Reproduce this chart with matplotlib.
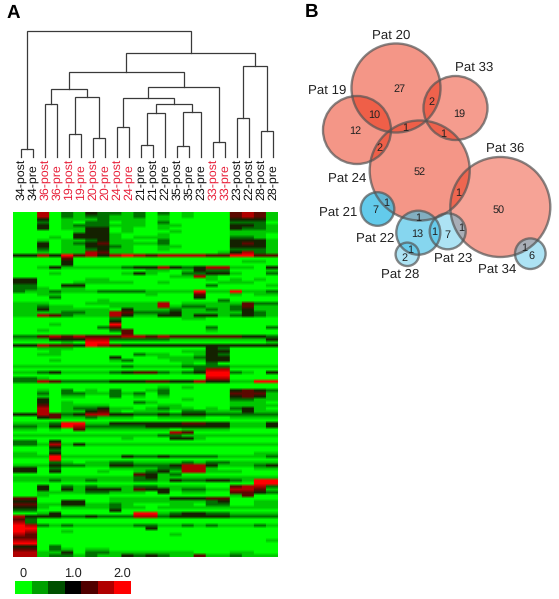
import matplotlib
matplotlib.use("Agg")
import matplotlib.pyplot as plt
import numpy as np
from matplotlib.colors import ListedColormap, LinearSegmentedColormap
from matplotlib.patches import Circle

plt.rcParams['font.family'] = ['Liberation Sans', 'DejaVu Sans']
plt.rcParams['text.hinting'] = 'no_hinting'

samples = ["34-post","34-pre","36-post","36-pre","19-post","19-pre","20-post","20-pre",
           "24-post","24-pre","21-pre","21-post","22-pre","35-post","35-pre","23-pre",
           "33-post","33-pre","23-post","22-post","28-post","28-pre"]
red_patients = ["36","19","20","24","33"]

# (child a, child b, height); ints are leaves, "m<k>" refers to the k-th merge
merges = [(0,1,23),(2,3,159),(4,5,68),(6,7,56),("m2","m3",179),("m1","m4",204),(8,9,90),
          (10,11,35),("m7",12,133),(13,14,33),("m9",15,136),("m8","m10",159),("m6","m11",176),
          (16,17,45),("m12","m13",211),("m5","m14",255),(18,19,116),(20,21,78),("m16","m17",272),
          ("m15","m18",313),("m0","m19",378)]

heat_rows = [
"0050213221202010004541","0050212211201010004541","0030111211101000003331","0020102201102000002220",
"0030122211101100003321","0030113301001000003221","0000013301000100001111","0000033310001000001110",
"0001033310111000002210","0010112311002000003331","0030123411112000003431","0030113321001100003331",
"0020112311001000002221","0010115411000000013521","3353645356545555446644","0000400000000000000000",
"0000300000000000000110","0000300000000000000000","0013111112335323551103","0000000000011013220001",
"0001000001310022331002","0000000000000115100000","3300001100000000101010","3300011111001000011100",
"2200330000000000200001","2210110000000000000000","2112111222211116116112","0011000000010004001011",
"0002000000000003000000","0000000100000000020000","1110001111115011111422","1121100011115122112411",
"1131111103111211212311","1111221154222311111321","1154211153113313312321","0000000020000011000000",
"0000000030000000000000","0001000060000000000000","0000000240000000200002","0010000024000000100000",
"0000000004000000000000","2245454445545444444332","1113335522222111111113","0000106600000000000001",
"3354436543333333333333","0011100000000000320000","0001000000000011330000","0011000000211001320000",
"0000000030001112330000","0001000012000111330000","0000000000000010200000","1111111112111122221111",
"0000000000000002550000","1123111123442123662103","0000000000000000660000","2210000000000000550000",
"2254222233344335331166","0000000000000000000000","0000000000001010000000","0010201020012000003432",
"0020221121202000004441","0010110020101000003431","0030000000000010002211","0030100000210000001110",
"0040111100001100001111","0050122311012110102310","0050113410111022111311","3354235533223233222222",
"0034112111001111001111","0000000000000000000000","1112661133333344331113","2213652222233333331113",
"1101041111111011110000","0000000000000540000000","1111111111112211111111","0000000001000331000000",
"2203000000000000000000","2215131111111111111111","0003000000000000000000","0002000000000000000000",
"1103000000000000000011","1116111113223222211112","0006000000000000000000","0002101122111121221111",
"1113221133222355311123","3302000011112255100011","3303000100123155111000","0000000000431200000000",
"1111111111231111111111","1112112111221322332166","0000000000000000000066","0030212111221111004552",
"0030313331433122115541","0011112211103011004432","0010000000000000001400","4400000011111333440000",
"3300330011111111230011","4411331121000110220011","3310111121101111111111","2200000030000000000000",
"0013000000661233221111","5333223222552333332222","4200000000000000000000","5200000000000000000000",
"6521211111221121211121","6600000000030000000000","6500100000000000000000","5400000000000100000000",
"4400000000000000000000","5500000000000000000001","6600000000000000000000","3302000000000000000000",
"4402101100000000000000","5511302211111110001100","5512212113232114112111",
]
heat = np.array([[int(c) for c in r] for r in heat_rows],dtype=float)

legend_levels = [0,1,2,3,4,5,6]
legend_labels = {0:"0",3:"1.0",6:"2.0"}
level_colors = ["#00ff00","#00a000","#005000","#000000","#500000","#b00000","#ff0000"]
heat_colors = ["#00ff00","#00c800","#007000","#142200","#5c0800","#b00000","#ff0000"]

venn_names = ["Pat 20","Pat 33","Pat 19","Pat 24","Pat 36","Pat 21","Pat 22","Pat 23","Pat 28","Pat 34"]
venn_cx = [396,455.5,357,419.7,500.3,377.5,418.3,447.7,407.3,530.3]
venn_cy = [88,108,130,170.5,207,209,232.7,231.3,254.3,253.7]
venn_r  = [44.5,32,34,50,50,16.8,22,18,11.7,15.3]
venn_fill = ["#ea2405"]*5 + ["#3cbee6"]*5
venn_alpha = [.48,.45,.48,.48,.42,.8,.62,.42,.42,.42]
venn_lx = [391,473.7,326.7,346.7,505,338.3,375,452.7,400.3,497]
venn_ly = [36,67.3,90.7,179,149,212.3,238.3,258.3,275,270]

count_text = ["27","10","12","2","19","1","1","2","52","50","1","1","7","1","13","1","7","1","1","2","1","6"]
count_x = [400,374,355,431,459.7,405,442.7,379.3,420,498.3,457.7,385.7,375.7,417.7,417.7,434,447,460.7,409.7,404.3,524,531.3]
count_y = [89.3,115,131.3,102,114,128.3,134,148.3,171.7,210,192.7,202.7,210,217.7,234,232.3,234.7,228.3,250,258,248,256]

fig = plt.figure(figsize=(5.59,5.99),dpi=100)
ax = fig.add_axes([0,0,1,1])
ax.set_xlim(0,559); ax.set_ylim(599,0); ax.axis('off')

heat_cmap = LinearSegmentedColormap.from_list("hm",heat_colors,N=256)
ax.imshow(np.repeat(heat,12,axis=1),cmap=heat_cmap,vmin=0,vmax=6,aspect='auto',interpolation='bilinear',
          extent=[13.3,278.3,557.3,212.7],zorder=1)
ax.imshow(np.array([legend_levels]),cmap=ListedColormap(level_colors),vmin=-.5,vmax=6.5,aspect='auto',
          interpolation='nearest',extent=[15,130.7,594,581],zorder=1)
ax.set_xlim(0,559); ax.set_ylim(599,0)
step = (130.7-15)/7
for k,t in legend_labels.items():
    ax.text(15+step*(k+.5),577,t,ha='center',va='baseline',fontsize=9.2,color='#222222')

# dendrogram
x0,dx,base = 20.6,12.02,157
def pos(n,done):
    if isinstance(n,str):
        return done[int(n[1:])]
    return (x0+dx*n,base)
done=[]
for a,b,h in merges:
    xa,ya = pos(a,done); xb,yb = pos(b,done)
    y = base-h/3
    ax.plot([xa,xa,xb,xb],[ya,y,y,yb],color='#3a3a3a',lw=.9,solid_joinstyle='miter',zorder=2)
    done.append(((xa+xb)/2,y))

for i,s in enumerate(samples):
    col = '#e8203a' if s.split('-')[0] in red_patients else '#111111'
    ax.text(x0+dx*i,200.5,s,rotation=90,ha='center',va='bottom',fontsize=8.9,color=col)

# venn
for cx,cy,r,f,al in zip(venn_cx,venn_cy,venn_r,venn_fill,venn_alpha):
    ax.add_patch(Circle((cx,cy),r,facecolor=f,alpha=al,edgecolor='none',zorder=3))
for cx,cy,r in zip(venn_cx,venn_cy,venn_r):
    ax.add_patch(Circle((cx,cy),r,facecolor='none',edgecolor='#555555',alpha=.7,lw=1.7,zorder=4))
for n,x,y in zip(venn_names,venn_lx,venn_ly):
    ax.text(x,y,n,ha='center',va='center',fontsize=9.5,color='#222222',zorder=5)
for t,x,y in zip(count_text,count_x,count_y):
    ax.text(x,y,t,ha='center',va='center',fontsize=7.8,color='#222222',zorder=5)

ax.text(13.3,12.7,"A",ha='center',va='center',fontsize=13.5,fontweight='bold',color='black')
ax.text(311.7,11.7,"B",ha='center',va='center',fontsize=13.5,fontweight='bold',color='black')

fig.savefig("out.png",dpi=100)
